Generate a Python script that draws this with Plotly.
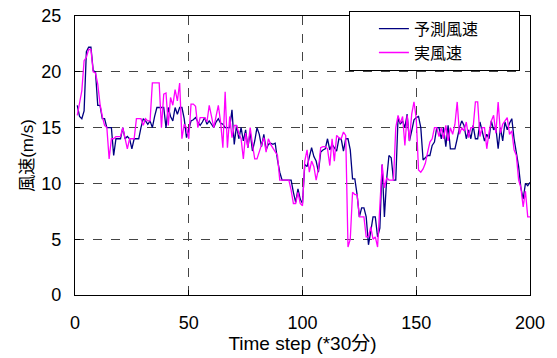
import plotly.graph_objects as go

steps = list(range(1, 201))

predicted = [
    17.0, 16.0, 15.8, 16.5, 21.8, 22.2, 22.2, 20.1, 20.0, 17.0,
    17.0, 15.8, 15.8, 15.0, 15.0, 15.0, 12.5, 14.0, 14.0, 14.0,
    15.0, 14.0, 14.2, 14.0, 13.1, 14.0, 14.0, 14.0, 15.0, 15.8,
    15.6, 15.3, 15.6, 15.0, 16.0, 16.8, 16.8, 16.8, 16.8, 15.0,
    16.8, 16.0, 15.6, 16.8, 16.2, 16.8, 16.8, 15.8, 14.1, 14.8,
    15.6, 15.7, 15.9, 15.5, 15.2, 15.5, 15.9, 15.3, 15.6, 15.3,
    15.0, 15.5, 15.8, 15.4, 15.3, 15.0, 15.0, 15.0, 16.6, 13.5,
    15.2, 14.0, 15.0, 13.8, 14.8, 13.2, 14.6, 12.9, 13.8, 15.0,
    14.4, 13.3, 14.4, 13.0, 13.5, 13.6, 13.5, 13.6, 12.1, 11.0,
    10.3, 10.3, 10.3, 10.3, 10.3, 9.2, 8.3, 9.5, 8.6, 8.2,
    11.7, 11.5, 12.5, 13.2, 12.4, 12.0, 11.0, 12.8, 13.0, 13.1,
    14.0, 13.0, 13.5, 13.2, 12.9, 14.0, 14.0, 12.9, 14.0, 14.0,
    13.0, 10.4, 10.4, 9.0, 7.0, 7.8, 7.8, 7.0, 4.5, 5.7,
    7.0, 7.0, 5.2, 6.0, 11.7, 7.0, 10.4, 12.5, 12.3, 10.3,
    10.3, 15.9, 15.3, 15.6, 15.0, 16.2, 13.8, 14.7, 15.7, 15.9,
    16.0, 15.0, 12.1, 12.3, 12.5, 12.5, 13.4, 13.7, 15.0, 15.0,
    14.0, 15.0, 13.3, 15.2, 13.1, 13.1, 13.1, 14.0, 15.0, 15.6,
    15.2, 14.0, 14.8, 14.0, 15.2, 14.0, 14.0, 15.5, 14.6, 13.8,
    14.4, 14.0, 15.6, 14.8, 15.0, 13.1, 15.0, 13.8, 15.5, 14.8,
    15.4, 15.8, 14.0, 12.9, 11.5, 9.6, 8.6, 10.0, 9.8, 10.1,
]

actual = [
    16.1, 17.1, 18.3, 21.0, 21.3, 22.0, 22.0, 20.0, 19.9, 18.9,
    17.1, 16.0, 15.2, 15.0, 12.2, 14.0, 14.0, 14.2, 14.2, 14.2,
    15.0, 14.0, 13.1, 14.0, 14.0, 14.0, 15.8, 15.8, 15.8, 15.2,
    15.8, 15.6, 15.6, 19.0, 19.0, 19.0, 19.0, 15.0, 18.0, 18.1,
    15.2, 17.7, 17.0, 18.4, 17.4, 19.0, 14.0, 15.3, 15.0, 14.0,
    17.1, 17.1, 16.9, 15.0, 15.9, 15.9, 15.9, 15.5, 17.0, 16.0,
    15.0, 16.0, 17.0, 15.5, 13.2, 18.2, 13.2, 16.0, 14.1, 15.2,
    15.2, 14.5, 14.0, 12.2, 14.5, 13.2, 15.0, 13.5, 12.2, 12.2,
    12.8, 13.5, 14.1, 12.8, 14.0, 13.5, 13.2, 12.8, 12.5, 10.3,
    10.3, 10.3, 10.3, 10.3, 9.4, 8.2, 8.2, 9.2, 8.2, 8.0,
    12.0, 13.0, 11.0, 12.0, 11.5, 10.3, 11.3, 13.2, 13.3, 13.3,
    13.1, 11.6, 14.0, 12.0, 14.3, 14.1, 14.0, 14.6, 14.3, 4.3,
    5.0, 9.2, 9.0, 9.0, 7.0, 7.0, 7.0, 5.2, 5.2, 6.1,
    5.0, 5.2, 4.3, 8.0, 11.7, 9.6, 10.5, 10.3, 10.3, 10.3,
    15.0, 16.1, 15.4, 16.0, 13.4, 16.1, 13.8, 16.2, 17.3, 15.8,
    11.2, 11.0, 11.3, 11.8, 12.8, 13.7, 14.0, 15.0, 15.0, 14.2,
    15.0, 14.0, 15.2, 13.8, 15.0, 14.4, 15.3, 17.3, 14.4, 15.0,
    14.7, 15.5, 14.1, 15.0, 15.0, 17.3, 17.3, 14.2, 15.0, 15.0,
    13.1, 14.6, 15.6, 16.1, 14.5, 17.3, 14.5, 15.3, 15.6, 15.9,
    14.4, 14.7, 13.0, 12.5, 10.3, 9.6, 7.9, 9.3, 7.0, 7.0,
]

x_ticks = [0, 50, 100, 150, 200]
y_ticks = [0, 5, 10, 15, 20, 25]
series_names = ["予測風速", "実風速"]
x_title = "Time step (*30分)"
y_title = "風速(m/s)"

FONT = "Liberation Sans, Arial, Noto Sans CJK JP, sans-serif"
PAD = "\u00a0" * 8

fig = go.Figure()
fig.add_trace(go.Scatter(x=steps, y=predicted, mode="lines", name=series_names[0] + PAD,
                         line=dict(color="#000080", width=1.3)))
fig.add_trace(go.Scatter(x=steps, y=actual, mode="lines", name=series_names[1] + PAD,
                         line=dict(color="#FF00FF", width=1.3)))

axis_common = dict(
    showline=True, linecolor="black", linewidth=1.3, mirror=True,
    showgrid=True, gridcolor="#444444", griddash="dash", gridwidth=1,
    ticks="inside", ticklen=5, tickcolor="black", zeroline=False,
    tickfont=dict(size=18, color="black", family=FONT), automargin=False,
)

fig.update_layout(
    width=557, height=358,
    margin=dict(l=75, r=27, t=15, b=63),
    paper_bgcolor="white", plot_bgcolor="white",
    font=dict(family=FONT, color="black"),
    showlegend=True,
    legend=dict(
        x=0.602, y=1.015, xanchor="left", yanchor="top",
        bgcolor="white", bordercolor="black", borderwidth=1,
        font=dict(size=16, family=FONT, color="black"),
        indentation=24, tracegroupgap=0, itemwidth=30,
    ),
    xaxis=dict(axis_common, range=[0, 200], tickvals=x_ticks, ticklabelstandoff=11,
               title=dict(text=x_title, font=dict(size=19, family=FONT), standoff=4)),
    yaxis=dict(axis_common, range=[0, 25], tickvals=y_ticks, ticklabelstandoff=9,
               title=dict(text=y_title, font=dict(size=17, family=FONT), standoff=3)),
)

fig.write_html("out.html")
